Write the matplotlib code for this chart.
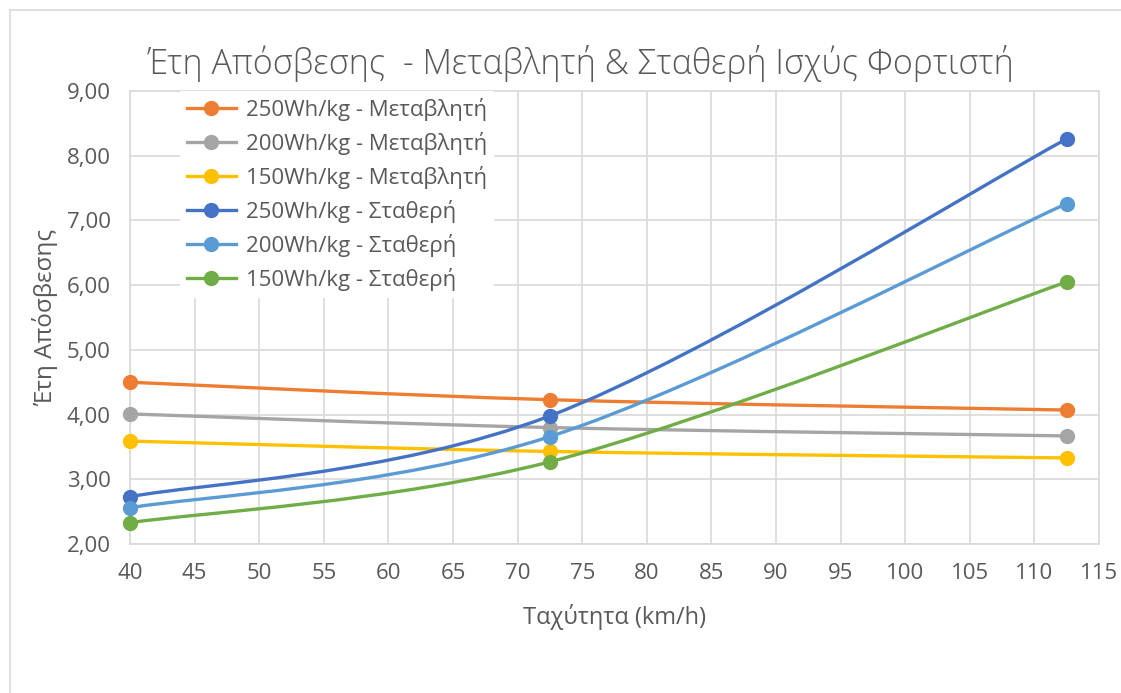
import numpy as np
import matplotlib.pyplot as plt
from matplotlib.path import Path
from matplotlib.patches import PathPatch, Rectangle
from matplotlib.lines import Line2D

plt.rcParams['font.family'] = ['Open Sans', 'DejaVu Sans']

speed = [40, 72.5, 112.5]
labels = ["250Wh/kg - Μεταβλητή", "200Wh/kg - Μεταβλητή", "150Wh/kg - Μεταβλητή",
          "250Wh/kg - Σταθερή", "200Wh/kg - Σταθερή", "150Wh/kg - Σταθερή"]
var_250 = [4.50, 4.23, 4.07]
var_200 = [4.01, 3.80, 3.67]
var_150 = [3.59, 3.43, 3.33]
const_250 = [2.73, 3.98, 8.26]
const_200 = [2.56, 3.66, 7.26]
const_150 = [2.33, 3.27, 6.05]
series = [var_250, var_200, var_150, const_250, const_200, const_150]
colors = ["#ED7D31", "#A5A5A5", "#FFC000", "#4472C4", "#5B9BD5", "#70AD47"]
xticks = list(range(40, 116, 5))
yticks = [2, 3, 4, 5, 6, 7, 8, 9]
txt = "#595959"


def smooth_path(xs, ys):
    # bezier segments like a spreadsheet "smoothed line"
    p = np.column_stack([xs, ys]).astype(float)
    ext = np.vstack([p[0], p, p[-1]])
    verts = [p[0]]
    codes = [Path.MOVETO]
    for i in range(len(p) - 1):
        p0, p1, p2, p3 = ext[i], ext[i + 1], ext[i + 2], ext[i + 3]
        verts += [p1 + (p2 - p0) / 6, p2 - (p3 - p1) / 6, p2]
        codes += [Path.CURVE4] * 3
    return Path(verts, codes)


fig = plt.figure(figsize=(11.21, 6.93), dpi=100)
fig.patches.append(Rectangle((10 / 1121, -0.1), 1.2, (693 - 10) / 693 + 0.1,
                             transform=fig.transFigure, fill=False,
                             edgecolor="#D9D9D9", linewidth=1.2))
ax = fig.add_axes([130 / 1121, 149 / 693, 969 / 1121, 453 / 693])

for ys, c in zip(series, colors):
    ax.add_patch(PathPatch(smooth_path(speed, ys), facecolor="none",
                           edgecolor=c, linewidth=2.4, capstyle="round", zorder=3))
    ax.plot(speed, ys, linestyle="none", marker="o", markersize=10,
            color=c, zorder=4, clip_on=False)

ax.set_xlim(40, 115)
ax.set_ylim(2, 9)
ax.set_xticks(xticks)
ax.set_yticks(yticks)
ax.set_yticklabels([f"{v:.2f}".replace(".", ",") for v in yticks])
ax.grid(True, color="#D9D9D9", linewidth=1.2)
ax.set_axisbelow(True)
for s in ax.spines.values():
    s.set_color("#D9D9D9")
    s.set_linewidth(1.2)
ax.tick_params(length=0, labelsize=16, colors=txt)
ax.tick_params(axis="x", pad=14)
ax.tick_params(axis="y", pad=14)

ax.set_xlabel("Ταχύτητα (km/h)", fontsize=17, color=txt, labelpad=14)
ax.set_ylabel("Έτη Απόσβεσης", fontsize=17.5, color=txt, labelpad=6)
fig.text(581 / 1121, 1 - 64 / 693, "Έτη Απόσβεσης  - Μεταβλητή & Σταθερή Ισχύς Φορτιστή",
         ha="center", va="center", fontsize=24.5, color=txt, fontweight="light")

handles = [Line2D([], [], color=c, linewidth=2.4, marker="o", markersize=10)
           for c in colors]
leg = ax.legend(handles, labels, loc="upper left", bbox_to_anchor=(0.052, 1.0),
                frameon=True, fontsize=16, labelcolor=txt, handlelength=2.2,
                handletextpad=0.45, labelspacing=0.5, borderaxespad=0,
                borderpad=0.3, fancybox=False)
leg.get_frame().set_facecolor("white")
leg.get_frame().set_edgecolor("none")
leg.get_frame().set_alpha(1)
leg.set_zorder(5)

fig.savefig("out.png", dpi=100)
